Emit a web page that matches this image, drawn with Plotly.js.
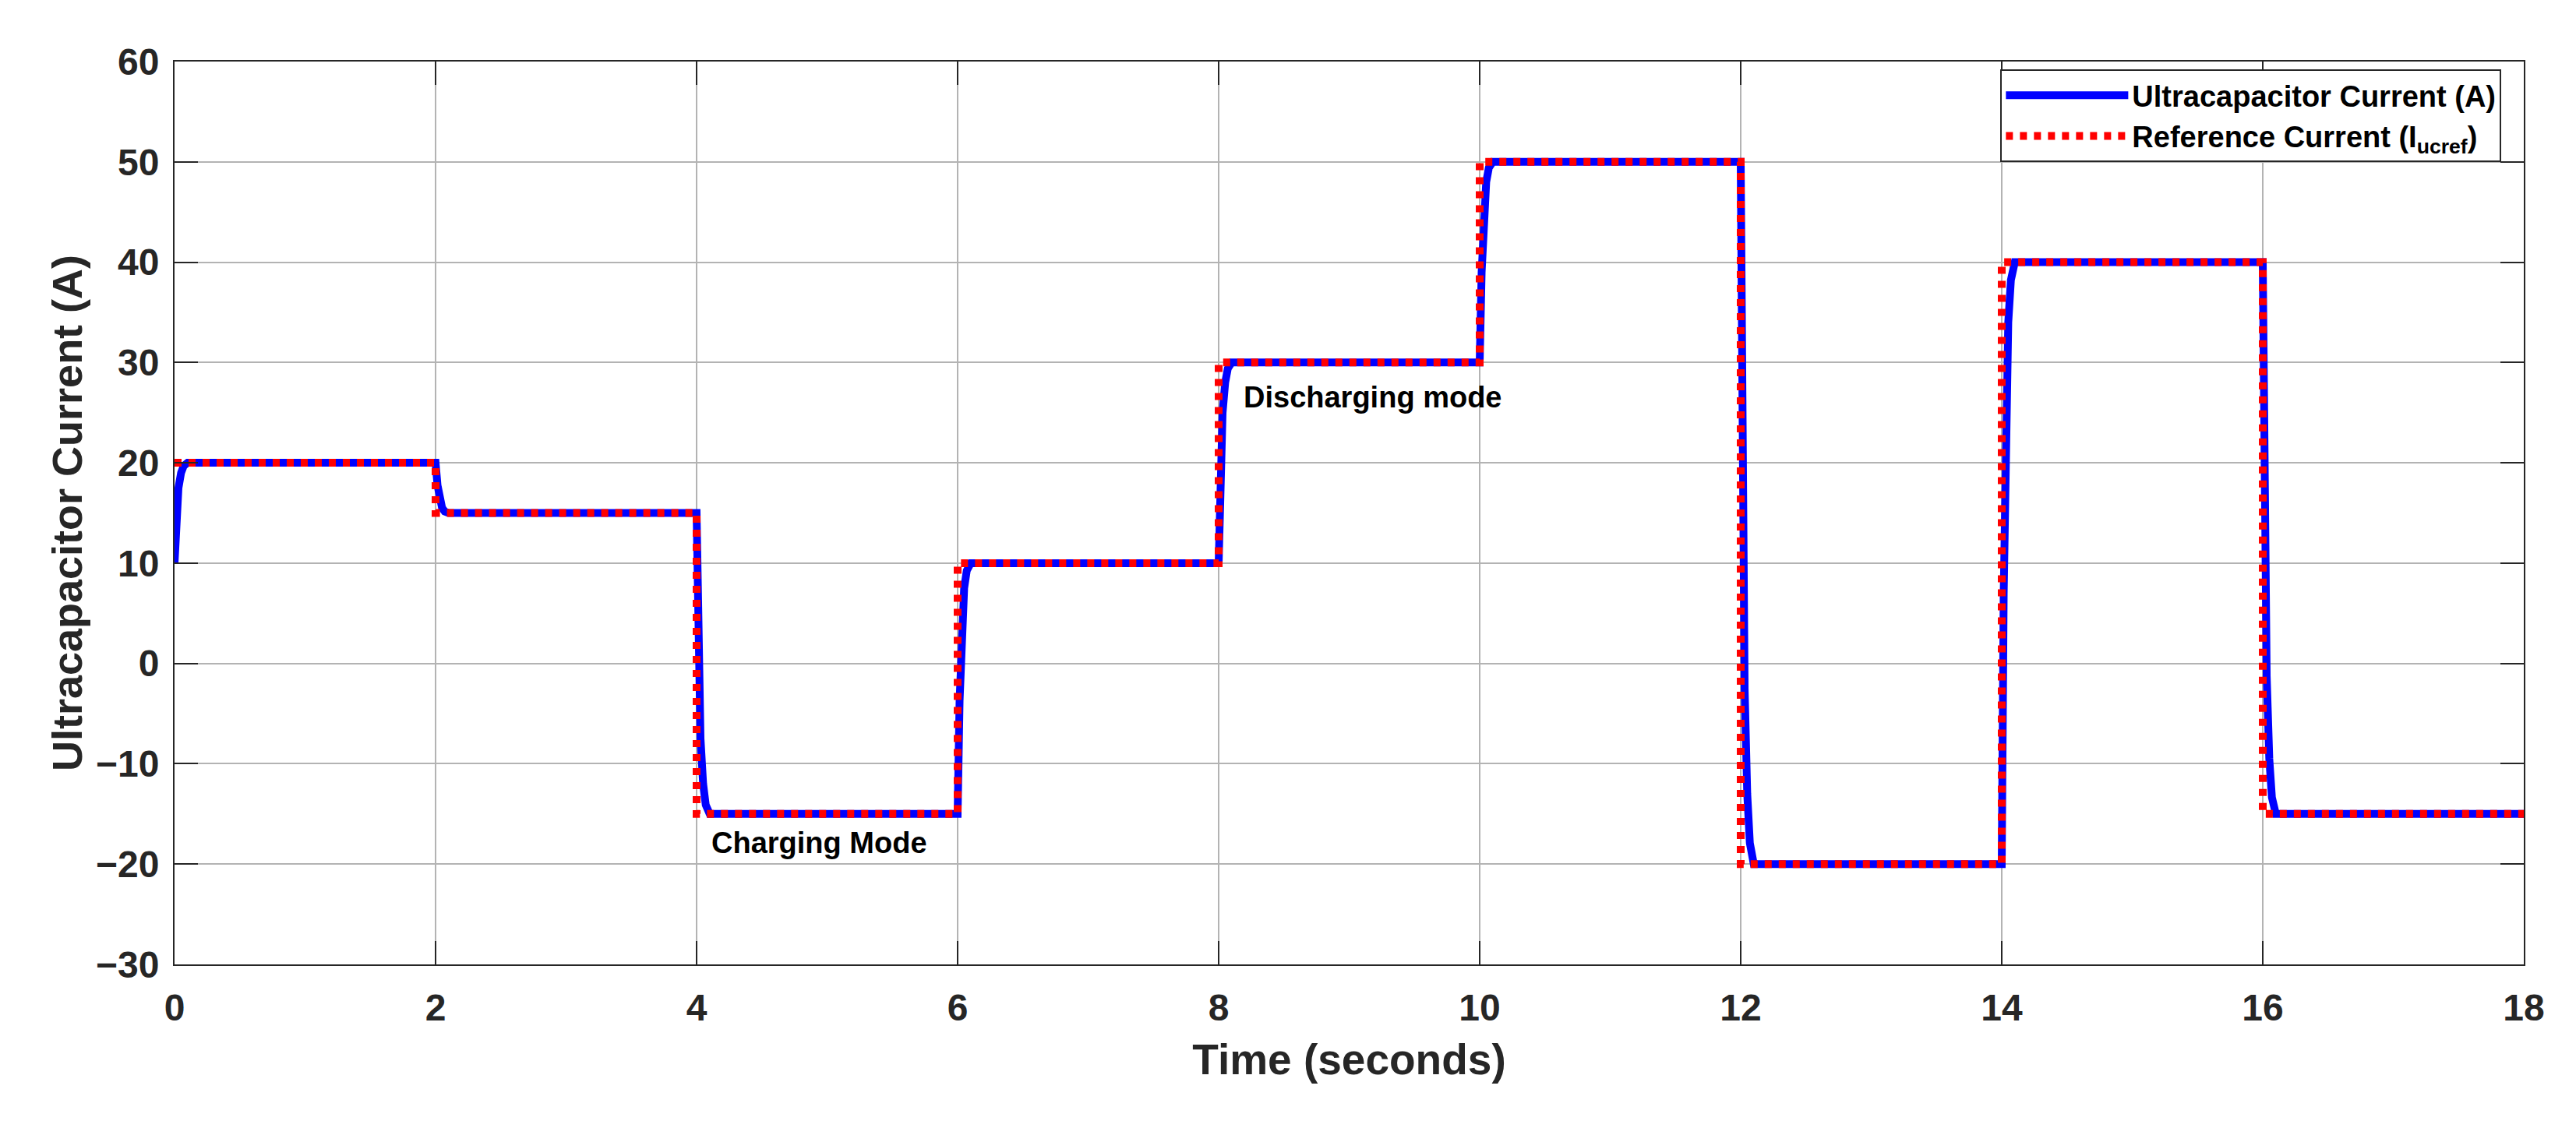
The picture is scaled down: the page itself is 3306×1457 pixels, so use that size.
<!DOCTYPE html>
<html>
<head>
<meta charset="utf-8">
<script src="https://cdn.plot.ly/plotly-3.0.1.min.js"></script>
<style>html,body{margin:0;padding:0;background:#fff;}</style>
</head>
<body>
<div id="chart" style="width:3306px;height:1457px;"></div>
<script>
// Ultracapacitor current (measured, lags the reference slightly)
const ucTime = [
  0, 0.015, 0.03, 0.05, 0.07, 0.1,
  2, 2.015, 2.03, 2.05, 2.07, 2.1,
  4, 4.015, 4.03, 4.05, 4.07, 4.1,
  6, 6.015, 6.03, 6.05, 6.07, 6.1,
  8, 8.015, 8.03, 8.05, 8.07, 8.1,
  10, 10.015, 10.03, 10.05, 10.07, 10.1,
  12, 12.015, 12.03, 12.05, 12.07, 12.1,
  14, 14.015, 14.03, 14.05, 14.07, 14.1,
  16, 16.015, 16.03, 16.05, 16.07, 16.1,
  18
];
const ucCurrent = [
  10, 14.5, 17.5, 19, 19.7, 20,
  20, 17.75, 16.25, 15.5, 15.15, 15,
  15, 1.5, -7.5, -12, -14.1, -15,
  -15, -3.75, 3.75, 7.5, 9.25, 10,
  10, 19, 25, 28, 29.4, 30,
  30, 39, 45, 48, 49.4, 50,
  50, 18.5, -2.5, -13, -17.9, -20,
  -20, 7, 25, 34, 38.2, 40,
  40, 15.25, -1.25, -9.5, -13.35, -15,
  -15
];
// Reference current (step profile)
const refTime = [0, 2, 4, 6, 8, 10, 12, 14, 16, 18];
const refCurrent = [20, 15, -15, 10, 30, 50, -20, 40, -15, -15];

const xTicks = [0, 2, 4, 6, 8, 10, 12, 14, 16, 18];
const yTicks = [-30, -20, -10, 0, 10, 20, 30, 40, 50, 60];

const seriesNames = ['Ultracapacitor Current (A)', 'Reference Current (I<sub>ucref</sub>)'];
const noteLabels = ['Charging Mode', 'Discharging mode'];
const noteX = [4.1, 8.18];
const noteY = [-17.9, 26.5];

const FONT = 'Liberation Sans, Arial, Helvetica, sans-serif';
const AX = '#262626';

const traces = [
  {
    x: ucTime, y: ucCurrent, type: 'scatter', mode: 'lines',
    name: seriesNames[0],
    line: {color: '#0000ff', width: 10, shape: 'linear'}
  },
  {
    x: refTime, y: refCurrent, type: 'scatter', mode: 'lines',
    name: seriesNames[1],
    line: {color: '#ff0000', width: 10, shape: 'hv', dash: '9px,9px'}
  }
];

function axisCommon() {
  return {
    showgrid: true, gridcolor: '#b3b3b3', gridwidth: 2,
    showline: true, linecolor: AX, linewidth: 2, mirror: 'ticks',
    ticks: 'inside', ticklen: 30, tickwidth: 2, tickcolor: AX,
    zeroline: false,
    tickfont: {family: FONT, size: 48, color: AX, weight: 'bold'}
  };
}

const xa = Object.assign(axisCommon(), {
  range: [0, 18], tickvals: xTicks, ticktext: xTicks.map(String),
  ticklabelstandoff: 12,
  title: {text: 'Time (seconds)', font: {family: FONT, size: 55, color: AX, weight: 'bold'}, standoff: 22}
});
const ya = Object.assign(axisCommon(), {
  range: [-30, 60], tickvals: yTicks,
  ticktext: yTicks.map(v => v < 0 ? '\u2212' + Math.abs(v) : String(v)),
  ticklabelstandoff: 8,
  title: {text: 'Ultracapacitor Current (A)', font: {family: FONT, size: 54, color: AX, weight: 'bold'}, standoff: 0}
});

const layout = {
  width: 3306, height: 1457,
  margin: {l: 224, r: 67, t: 79, b: 219, pad: 0},
  paper_bgcolor: '#ffffff', plot_bgcolor: '#ffffff',
  xaxis: xa, yaxis: ya,
  showlegend: true,
  legend: {
    x: 0.9905, xanchor: 'right', y: 0.9914, yanchor: 'top',
    bgcolor: '#ffffff', bordercolor: AX, borderwidth: 2,
    font: {family: FONT, size: 38, color: '#000000', weight: 'bold'},
    itemwidth: 157, tracegroupgap: 0
  },
  annotations: noteLabels.map((t, i) => ({
    x: noteX[i], y: noteY[i], xref: 'x', yref: 'y',
    text: t, showarrow: false, xanchor: 'left', yanchor: 'middle',
    font: {family: FONT, size: 38, color: '#000000', weight: 'bold'}
  }))
};

Plotly.newPlot('chart', traces, layout, {displayModeBar: false, staticPlot: true});
</script>
</body>
</html>
